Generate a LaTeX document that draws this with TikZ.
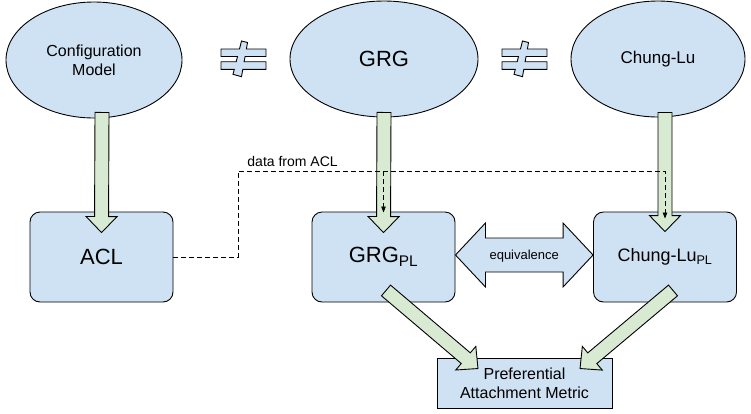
\documentclass[tikz,border=0pt]{standalone}
\usepackage{fontspec}
\setmainfont{Liberation Sans}
\usetikzlibrary{positioning,arrows.meta,calc,shapes.geometric}
\definecolor{ModelBlue}{RGB}{207,226,243}
\definecolor{StepGreen}{RGB}{217,234,211}

% block arrow from #1 to #2 (shaft 14, head 31 wide, 16 long)
\newcommand{\blockarrow}[2]{%
  \draw[blockarr] let \p1=(#1), \p2=(#2), \n1={atan2(\y2-\y1,\x2-\x1)},
    \n2={veclen(\x2-\x1,\y2-\y1)} in [shift={(\p1)}, rotate=\n1]
    (0pt,-7pt) -- (\n2-16pt,-7pt) -- (\n2-16pt,-15.5pt) -- (\n2+0pt,0pt)
    -- (\n2-16pt,15.5pt) -- (\n2-16pt,7pt) -- (0pt,7pt) -- cycle;
}
% two-headed block arrow from #1 to #2
\newcommand{\twoblockarrow}[2]{%
  \draw[twoarr] let \p1=(#1), \p2=(#2), \n1={atan2(\y2-\y1,\x2-\x1)},
    \n2={veclen(\x2-\x1,\y2-\y1)} in [shift={(\p1)}, rotate=\n1]
    (0pt,0pt) -- (30pt,-32pt) -- (30pt,-17pt) -- (\n2-30pt,-17pt) -- (\n2-30pt,-32pt)
    -- (\n2+0pt,0pt) -- (\n2-30pt,32pt) -- (\n2-30pt,17pt) -- (30pt,17pt) -- (30pt,32pt) -- cycle;
}

\begin{document}
\begin{tikzpicture}[x=1pt, y=-1pt, line width=0.9pt,
  every node/.style={align=center, inner sep=0pt},
  model/.style={draw, ellipse, fill=ModelBlue, minimum width=#1, minimum height=116},
  variant/.style={draw, rounded corners=10pt, fill=ModelBlue, minimum width=143, minimum height=90,
    font=\fontsize{22}{26}\selectfont},
  metric/.style={draw, fill=ModelBlue, minimum width=175, minimum height=50,
    font=\fontsize{16}{19}\selectfont},
  blockarr/.style={draw, fill=StepGreen, line join=miter},
  twoarr/.style={draw, fill=ModelBlue, line join=miter},
  neqsign/.style={draw, fill=ModelBlue, line join=miter},
  dataline/.style={line width=0.8pt, dash pattern=on 5pt off 3pt, -{Triangle[length=6pt,width=4.5pt]}}]
  \useasboundingbox (0,0) rectangle (751,413);

  % random graph models
  \node[model=176, font=\fontsize{16}{19}\selectfont] (cm) at (94,60) {Configuration\\Model};
  \node[model=188, font=\fontsize{22}{26}\selectfont] (grg) at (384,59) {GRG};
  \node[model=174, font=\fontsize{17}{20}\selectfont] (cl) at (658,59) {Chung-Lu};

  % not equal signs
  \foreach \nx in {243,524} {
    \draw[neqsign, shift={(\nx,59)}] (-22,-10) -- (-3.5,-10) -- (-1.5,-18) -- (4.5,-16.5)
      -- (3.4,-10) -- (23,-10) -- (23,-2.5) -- (2.1,-2.5) -- (1.1,2.7) -- (23,2.7) -- (23,10.3)
      -- (-0.2,10.3) -- (-1.5,17.7) -- (-10,15.3) -- (-8.7,10.3) -- (-22,10.3) -- (-22,2.7)
      -- (-6.8,2.7) -- (-5.5,-2.5) -- (-22,-2.5) -- cycle;
  }

  % power law variants
  \node[variant] (acl) at (101.5,257) {ACL};
  \node[variant] (grgpl) at (383.5,257) {GRG\textsubscript{PL}};
  \node[variant, font=\fontsize{18}{22}\selectfont] (clpl) at (665,257) {Chung-Lu\textsubscript{PL}};
  \node[metric] (pam) at (524.5,383) {Preferential\\Attachment Metric};

  \blockarrow{$(cm.south)+(8,-6)$}{$(acl.north)+(0,21)$}
  \blockarrow{$(grg.south)+(0,-5)$}{$(grgpl.north)+(0,21)$}
  \blockarrow{$(cl.south)+(7,-5)$}{$(clpl.north)+(0,20)$}
  \blockarrow{$(grgpl.south)+(2.5,-12)$}{$(pam.north)+(-46.5,11)$}
  \blockarrow{$(clpl.south)+(8,-12)$}{$(pam.north)+(55.5,11)$}

  % data passed on from ACL
  \coordinate (bend) at (238,171);
  \draw[dataline] (acl.east) -| (bend) -| ($(clpl.north)+(0,7)$);
  \draw[dataline] (grgpl.north |- bend) -- ($(grgpl.north)+(0,1)$);
  \node[anchor=south west, font=\fontsize{14}{17}\selectfont] (datalbl) at ($(bend)+(9,-4)$) {data from ACL};

  % equivalence
  \twoblockarrow{$(grgpl.east)+(0,-2)$}{$(clpl.west)+(0,-2)$}
  \node[font=\fontsize{13}{16}\selectfont] (eqlbl) at ($(grgpl.east)!0.5!(clpl.west)+(0,-1)$) {equivalence};
\end{tikzpicture}
\end{document}
